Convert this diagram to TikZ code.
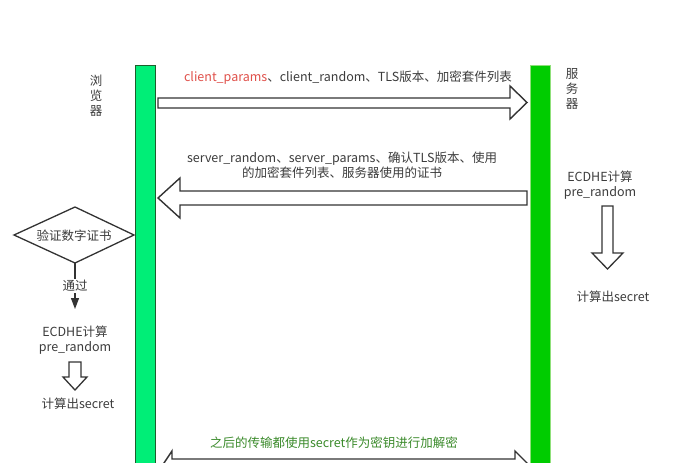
\documentclass[tikz,border=0pt]{standalone}
\usepackage{fontspec}
\setmainfont{Noto Sans CJK SC}
\usetikzlibrary{arrows.meta}
\definecolor{txt}{HTML}{3C3C3C}
\definecolor{edge}{HTML}{333333}
\definecolor{redtxt}{HTML}{E0504A}
\definecolor{greentxt}{HTML}{3A8A2A}
\definecolor{lbar}{HTML}{00EE77}
\definecolor{lbarb}{HTML}{1D5E2C}
\definecolor{rbar}{HTML}{00CC00}
\definecolor{rbarb}{HTML}{8FE07A}
\tikzset{
  lbl/.style={text=txt, font=\fontsize{12.5}{15}\selectfont, inner sep=0pt, align=center},
  blockarrow/.style={draw=edge, line width=1.4pt, fill=white, line join=miter},
  hollowdown/.style={draw=edge, line width=1.3pt, fill=white},
}
\begin{document}
\begin{tikzpicture}[x=1pt,y=-1pt]
\useasboundingbox (0,0) rectangle (688,463);
\clip (0,0) rectangle (688,463);
\fill[white] (0,0) rectangle (688,463);

% message arrows
\draw[blockarrow] (158,98) -- (510,98) -- (510,86) -- (527,102.5) -- (510,119) -- (510,108) -- (158,108) -- cycle;
\draw[blockarrow] (527,191) -- (180,191) -- (180,178) -- (158,198) -- (180,218) -- (180,205) -- (527,205) -- cycle;
\draw[blockarrow] (172,459) -- (172,451) -- (160,469) -- (172,487) -- (172,479) -- (515,479) -- (515,487) -- (533,469) -- (515,451) -- (515,459) -- cycle;

% lifelines
\node[draw=lbarb, fill=lbar, line width=1.2pt, minimum width=20pt, minimum height=420pt, inner sep=0pt, anchor=north west] (browser) at (135,65) {};
\node[draw=rbarb, fill=rbar, line width=0.8pt, minimum width=20pt, minimum height=420pt, inner sep=0pt, anchor=north west] (server) at (530,65) {};

% side labels
\node[lbl, align=center] (blabel) at (96,96) {浏\\[0pt]览\\[0pt]器};
\node[lbl, align=center] (slabel) at (572,89) {服\\[0pt]务\\[0pt]器};

% message texts
\node[lbl] (m1) at (348,78) {\textcolor{redtxt}{client\_params}、client\_random、TLS版本、加密套件列表};
\node[lbl] (m2) at (342,165) {server\_random、server\_params、确认TLS版本、使用\\的加密套件列表、服务器使用的证书};
\node[lbl, text=greentxt] (m3) at (334,443) {之后的传输都使用secret作为密钥进行加解密};

% server side
\node[lbl] (sec1) at (600,185) {ECDHE计算\\pre\_random};
\draw[hollowdown] (602,206) -- (613,206) -- (613,253) -- (623,253) -- (607.5,269) -- (592,253) -- (602,253) -- cycle;
\node[lbl] (ssecret) at (613,297) {计算出secret};

% browser side
\draw[edge, line width=1.3pt, fill=white] (14,235) coordinate (dl) -- (75,207) coordinate (dt) -- (134,235) coordinate (dr) -- (75,263) coordinate (db) -- cycle;
\node[lbl] (ver) at (74,236) {验证数字证书};
\coordinate (ptip) at (75,309);
\draw[edge, line width=1.3pt, -{Triangle[length=11pt,width=8pt]}] (db) -- (ptip);
\node[lbl, fill=white, inner sep=1pt] (pass) at (75,286) {通过};
\node[lbl] (bec) at (75,340) {ECDHE计算\\pre\_random};
\draw[hollowdown] (69,362) -- (81,362) -- (81,377) -- (87,377) -- (75,390) -- (63,377) -- (69,377) -- cycle;
\node[lbl] (bsecret) at (78,404) {计算出secret};
\end{tikzpicture}
\end{document}
